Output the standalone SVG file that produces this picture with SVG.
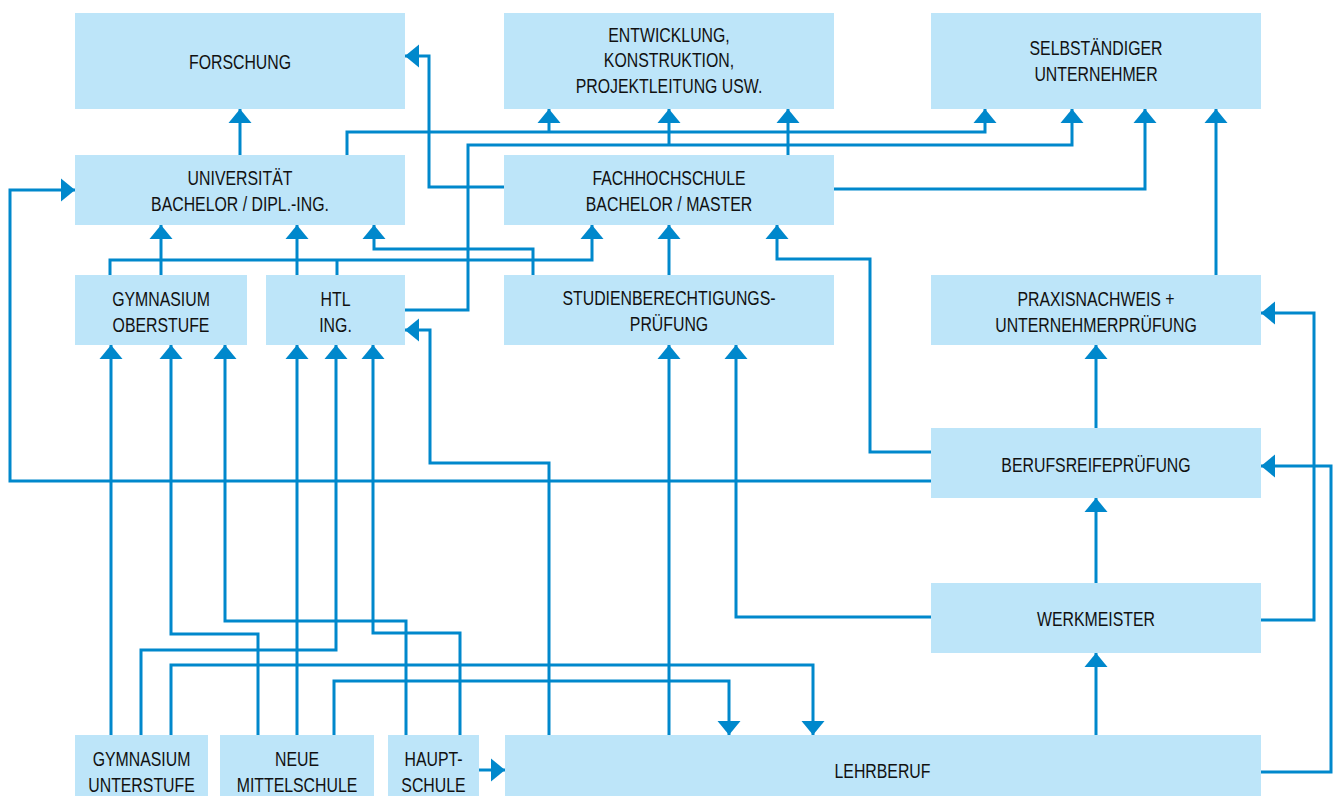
<svg xmlns="http://www.w3.org/2000/svg" width="1338" height="796" viewBox="0 0 1338 796">
<defs>
<marker id="a" markerUnits="userSpaceOnUse" markerWidth="14" markerHeight="24" viewBox="0 -12 14 24" refX="14" refY="0" orient="auto">
<path d="M0,-11.5 L14,0 L0,11.5 Z" fill="#0088cc"/>
</marker>
<style>
.box{fill:#bde5f9}
.t{font-family:"Liberation Sans",Arial,sans-serif;font-size:21px;fill:#111111;text-anchor:middle}
.c{fill:none;stroke:#0088cc;stroke-width:3}
.c path.ar{marker-end:url(#a)}
</style>
</defs>
<rect width="1338" height="796" fill="#ffffff"/>

<g id="forschung"><rect class="box" x="75" y="13" width="330" height="96"/>
<text class="t" transform="translate(240 69) scale(0.755 1)">FORSCHUNG</text></g>
<g id="entwicklung"><rect class="box" x="504" y="13" width="330" height="96"/>
<text class="t" transform="translate(669 42) scale(0.755 1)"><tspan x="0" y="0">ENTWICKLUNG,</tspan><tspan x="0" y="25.5">KONSTRUKTION,</tspan><tspan x="0" y="51">PROJEKTLEITUNG USW.</tspan></text></g>
<g id="selbstaendiger"><rect class="box" x="931" y="13" width="330" height="96"/>
<text class="t" transform="translate(1096 55) scale(0.755 1)"><tspan x="0" y="0">SELBSTÄNDIGER</tspan><tspan x="0" y="26">UNTERNEHMER</tspan></text></g>

<g id="universitaet"><rect class="box" x="75" y="155" width="330" height="70"/>
<text class="t" transform="translate(240 185) scale(0.755 1)"><tspan x="0" y="0">UNIVERSITÄT</tspan><tspan x="0" y="26">BACHELOR / DIPL.-ING.</tspan></text></g>
<g id="fachhochschule"><rect class="box" x="504" y="155" width="330" height="70"/>
<text class="t" transform="translate(669 185) scale(0.755 1)"><tspan x="0" y="0">FACHHOCHSCHULE</tspan><tspan x="0" y="26">BACHELOR / MASTER</tspan></text></g>

<g id="gym-oberstufe"><rect class="box" x="75" y="275" width="172" height="70"/>
<text class="t" transform="translate(161 306) scale(0.755 1)"><tspan x="0" y="0">GYMNASIUM</tspan><tspan x="0" y="26">OBERSTUFE</tspan></text></g>
<g id="htl"><rect class="box" x="266" y="275" width="139" height="70"/>
<text class="t" transform="translate(335.5 306) scale(0.755 1)"><tspan x="0" y="0">HTL</tspan><tspan x="0" y="26">ING.</tspan></text></g>
<g id="studienberechtigung"><rect class="box" x="504" y="275" width="330" height="70"/>
<text class="t" transform="translate(669 305) scale(0.755 1)"><tspan x="0" y="0">STUDIENBERECHTIGUNGS-</tspan><tspan x="0" y="26">PRÜFUNG</tspan></text></g>
<g id="praxisnachweis"><rect class="box" x="931" y="275" width="330" height="70"/>
<text class="t" transform="translate(1096 306) scale(0.755 1)"><tspan x="0" y="0">PRAXISNACHWEIS +</tspan><tspan x="0" y="26">UNTERNEHMERPRÜFUNG</tspan></text></g>

<g id="berufsreife"><rect class="box" x="931" y="428" width="330" height="70"/>
<text class="t" transform="translate(1096 472) scale(0.755 1)">BERUFSREIFEPRÜFUNG</text></g>
<g id="werkmeister"><rect class="box" x="931" y="583" width="330" height="70"/>
<text class="t" transform="translate(1096 626) scale(0.755 1)">WERKMEISTER</text></g>

<g id="gym-unterstufe"><rect class="box" x="75" y="735" width="133" height="70"/>
<text class="t" transform="translate(141.5 766) scale(0.755 1)"><tspan x="0" y="0">GYMNASIUM</tspan><tspan x="0" y="26">UNTERSTUFE</tspan></text></g>
<g id="neue-mittelschule"><rect class="box" x="220" y="735" width="154" height="70"/>
<text class="t" transform="translate(297 766) scale(0.755 1)"><tspan x="0" y="0">NEUE</tspan><tspan x="0" y="26">MITTELSCHULE</tspan></text></g>
<g id="hauptschule"><rect class="box" x="388" y="735" width="91" height="70"/>
<text class="t" transform="translate(433.5 766) scale(0.755 1)"><tspan x="0" y="0">HAUPT-</tspan><tspan x="0" y="26">SCHULE</tspan></text></g>
<g id="lehrberuf"><rect class="box" x="505" y="735" width="756" height="70"/>
<text class="t" transform="translate(882.5 778) scale(0.755 1)">LEHRBERUF</text></g>

<g id="connectors" class="c">
<path class="ar" d="M240,155 V109"/>
<path class="ar" d="M931,481 H10 V190 H75"/>
<path class="ar" d="M347,155 V132 H985 V109"/>
<path class="ar" d="M549,132 V109"/>
<path class="ar" d="M504,187 H429 V56 H405"/>
<path class="ar" d="M405,310 H468 V145 H1072 V109"/>
<path class="ar" d="M669,145 V109"/>
<path class="ar" d="M788,155 V109"/>
<path class="ar" d="M834,189 H1145 V109"/>
<path class="ar" d="M1216,275 V109"/>
<path class="ar" d="M110,275 V260 H592 V225"/>
<path d="M337,275 V260"/>
<path class="ar" d="M161,275 V225"/>
<path class="ar" d="M297,275 V225"/>
<path class="ar" d="M533,275 V249 H374 V225"/>
<path class="ar" d="M669,275 V225"/>
<path class="ar" d="M931,452 H870 V259 H777 V225"/>
<path class="ar" d="M1096,428 V345"/>
<path class="ar" d="M1096,583 V498"/>
<path class="ar" d="M1096,735 V653"/>
<path class="ar" d="M1261,620 H1314 V313 H1261"/>
<path class="ar" d="M1261,772 H1331 V466 H1261"/>
<path class="ar" d="M931,617 H736 V345"/>
<path class="ar" d="M669,735 V345"/>
<path class="ar" d="M549,735 V463 H430 V330 H405"/>
<path class="ar" d="M111,735 V345"/>
<path class="ar" d="M258,735 V634 H171 V345"/>
<path class="ar" d="M406,735 V621 H225 V345"/>
<path class="ar" d="M297,735 V345"/>
<path class="ar" d="M141,735 V650 H336 V345"/>
<path class="ar" d="M460,735 V633 H373 V345"/>
<path class="ar" d="M171,735 V665 H813 V735"/>
<path class="ar" d="M334,735 V681 H729 V735"/>
<path class="ar" d="M479,770 H505"/>
</g>
</svg>
